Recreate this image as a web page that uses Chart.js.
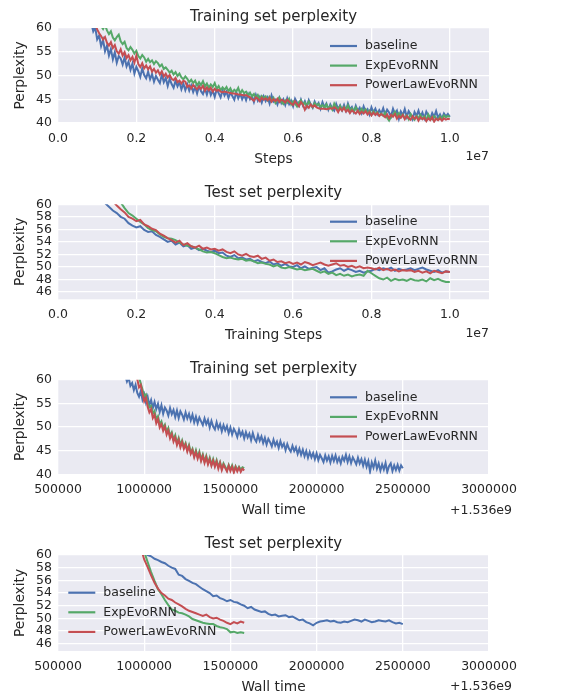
<!DOCTYPE html>
<html>
<head>
<meta charset="utf-8">
<script src="https://cdn.jsdelivr.net/npm/chart.js@4.4.0/dist/chart.umd.min.js"></script>
<style>
  body { margin: 0; background: #fff; }
  #wrap { position: relative; width: 562px; height: 693px; }
  canvas { position: absolute; left: 0; }
</style>
</head>
<body>
<div id="wrap">
  <canvas id="c1" width="562" height="172" style="top:0px"></canvas>
  <canvas id="c2" width="562" height="175" style="top:172px"></canvas>
  <canvas id="c3" width="562" height="175" style="top:347px"></canvas>
  <canvas id="c4" width="562" height="171" style="top:522px"></canvas>
</div>
<script>
// Series names
const seriesNames = ['baseline', 'ExpEvoRNN', 'PowerLawEvoRNN'];

// Panel 1: training perplexity vs steps (steps in millions)
const stepsTrain = [
  0.80, 0.85, 0.90, 0.95, 1.00, 1.05, 1.10, 1.15, 1.20, 1.25,
  1.30, 1.35, 1.40, 1.45, 1.50, 1.55, 1.60, 1.65, 1.70, 1.75,
  1.80, 1.85, 1.90, 1.95, 2.00, 2.05, 2.10, 2.15, 2.20, 2.25,
  2.30, 2.35, 2.40, 2.45, 2.50, 2.55, 2.60, 2.65, 2.70, 2.75,
  2.80, 2.85, 2.90, 2.95, 3.00, 3.05, 3.10, 3.15, 3.20, 3.25,
  3.30, 3.35, 3.40, 3.45, 3.50, 3.55, 3.60, 3.65, 3.70, 3.75,
  3.80, 3.85, 3.90, 3.95, 4.00, 4.05, 4.10, 4.15, 4.20, 4.25,
  4.30, 4.35, 4.40, 4.45, 4.50, 4.55, 4.60, 4.65, 4.70, 4.75,
  4.80, 4.85, 4.90, 4.95, 5.00, 5.05, 5.10, 5.15, 5.20, 5.25,
  5.30, 5.35, 5.40, 5.45, 5.50, 5.55, 5.60, 5.65, 5.70, 5.75,
  5.80, 5.85, 5.90, 5.95, 6.00, 6.05, 6.10, 6.15, 6.20, 6.25,
  6.30, 6.35, 6.40, 6.45, 6.50, 6.55, 6.60, 6.65, 6.70, 6.75,
  6.80, 6.85, 6.90, 6.95, 7.00, 7.05, 7.10, 7.15, 7.20, 7.25,
  7.30, 7.35, 7.40, 7.45, 7.50, 7.55, 7.60, 7.65, 7.70, 7.75,
  7.80, 7.85, 7.90, 7.95, 8.00, 8.05, 8.10, 8.15, 8.20, 8.25,
  8.30, 8.35, 8.40, 8.45, 8.50, 8.55, 8.60, 8.65, 8.70, 8.75,
  8.80, 8.85, 8.90, 8.95, 9.00, 9.05, 9.10, 9.15, 9.20, 9.25,
  9.30, 9.35, 9.40, 9.45, 9.50, 9.55, 9.60, 9.65, 9.70, 9.75,
  9.80, 9.85, 9.90, 9.95, 10.00
];
const trainBaseline = [
  62.4, 61.0, 59.3, 60.1, 57.6, 58.4, 56.2, 57.5, 55.1, 56.3,
  54.2, 55.6, 53.4, 54.9, 52.7, 54.1, 53.6, 52.3, 53.8, 51.9,
  52.9, 51.2, 52.5, 50.4, 51.8, 50.9, 49.7, 51.5, 50.1, 49.4,
  50.8, 49.2, 50.3, 48.7, 49.9, 49.1, 48.4, 50.2, 48.6, 49.5,
  47.8, 49.3, 48.2, 47.4, 48.9, 47.7, 48.6, 47.1, 48.3, 46.9,
  48.1, 46.8, 47.9, 46.5, 47.6, 46.2, 47.8, 46.7, 46.1, 47.3,
  46.0, 47.4, 45.9, 46.8, 45.5, 47.1, 46.3, 45.4, 46.9, 45.8,
  46.6, 45.3, 46.4, 45.7, 44.9, 46.5, 45.2, 46.2, 45.0, 45.9,
  44.8, 46.1, 45.0, 45.7, 44.4, 45.9, 44.7, 45.5, 44.3, 45.6,
  44.6, 45.4, 44.1, 45.8, 44.5, 44.9, 43.9, 45.3, 44.2, 45.0,
  43.8, 45.2, 44.0, 44.7, 43.5, 45.1, 44.3, 43.6, 44.9, 43.7,
  44.6, 43.4, 44.8, 43.9, 43.2, 44.5, 43.6, 44.2, 43.0, 44.4,
  43.3, 44.1, 42.8, 43.9, 43.1, 42.6, 44.0, 42.9, 43.7, 42.7,
  43.8, 42.6, 44.1, 42.9, 43.4, 42.3, 43.6, 42.5, 43.2, 42.1,
  43.5, 42.4, 42.9, 41.8, 43.3, 42.2, 43.0, 41.9, 42.7, 42.0,
  43.1, 41.7, 42.8, 42.2, 41.4, 43.0, 41.9, 42.6, 40.9, 42.4,
  41.6, 42.9, 41.3, 42.5, 41.8, 40.8, 42.3, 41.5, 42.6, 41.2,
  42.2, 41.0, 42.4, 41.6, 40.9, 42.1, 41.3, 42.5, 41.1, 41.8,
  40.9, 42.0, 41.4, 41.9, 41.3
];
const trainExp = [
  65.2, 64.4, 63.6, 62.9, 62.0, 61.2, 60.4, 59.8, 60.6, 59.5,
  58.7, 59.3, 58.0, 57.4, 58.1, 58.6, 57.2, 56.6, 57.1, 55.8,
  55.3, 56.0, 55.4, 54.6, 55.2, 54.1, 53.6, 54.3, 53.8, 52.9,
  53.5, 52.8, 53.2, 52.4, 53.0, 52.6, 51.9, 52.3, 51.4, 51.7,
  51.2, 50.6, 51.0, 50.2, 50.7, 49.9, 50.4, 49.6, 49.2, 49.8,
  49.3, 48.6, 49.1, 48.4, 48.9, 47.9, 48.6, 48.0, 48.8, 47.7,
  48.3, 47.4, 48.1, 47.6, 48.4, 47.2, 47.8, 46.9, 47.5, 47.0,
  47.6, 46.7, 47.3, 46.4, 47.0, 46.6, 47.4, 46.2, 46.9, 46.3,
  46.6, 45.8, 46.4, 45.6, 46.1, 45.3, 45.9, 45.0, 45.7, 45.2,
  45.6, 44.8, 45.5, 44.6, 45.3, 44.2, 44.9, 45.4, 44.5, 44.0,
  44.8, 44.3, 45.1, 43.9, 44.6, 44.1, 43.5, 44.4, 44.8, 43.8,
  44.3, 43.6, 44.5, 43.9, 43.3, 44.2, 43.7, 44.0, 43.4, 43.8,
  43.2, 43.9, 43.0, 43.6, 42.8, 44.1, 43.3, 42.9, 43.6, 42.7,
  43.4, 42.8, 43.7, 42.6, 43.1, 42.4, 43.3, 42.7, 42.3, 43.0,
  42.4, 42.9, 42.1, 42.6, 41.7, 42.5, 41.9, 42.3, 41.6, 42.0,
  41.5, 42.2, 41.1, 40.5, 41.3, 41.8, 42.4, 41.6, 42.1, 41.2,
  41.8, 41.0, 41.6, 40.8, 41.9, 41.2, 40.7, 41.5, 41.0, 41.7,
  40.9, 41.4, 40.6, 41.8, 41.1, 40.8, 41.5, 41.0, 40.7, 41.4,
  40.9, 41.6, 41.2, 41.5, 41.3
];
const trainPower = [
  63.6, 62.5, 61.4, 60.8, 59.7, 58.9, 58.3, 57.6, 58.1, 56.9,
  56.3, 57.0, 55.8, 56.4, 55.1, 54.6, 55.5, 54.2, 54.9, 53.7,
  54.3, 53.2, 53.9, 52.7, 54.2, 52.4, 51.8, 52.6, 51.5, 52.1,
  51.3, 51.9, 50.8, 51.4, 50.6, 51.1, 50.2, 50.9, 49.8, 50.4,
  49.6, 50.1, 49.3, 49.0, 49.5, 48.6, 48.9, 48.3, 48.9, 48.7,
  47.6, 47.9, 47.3, 48.0, 47.5, 47.1, 47.7, 47.2, 47.8, 46.8,
  47.5, 46.9, 47.4, 46.6, 47.2, 46.8, 47.0, 46.6, 46.5, 46.6,
  46.5, 46.4, 46.3, 46.2, 46.2, 46.1, 46.0, 46.0, 45.9, 45.8,
  45.9, 45.6, 45.4, 45.0, 44.7, 45.4, 45.1, 44.6, 45.3, 44.9,
  45.2, 44.8, 45.3, 44.5, 45.0, 44.6, 45.1, 44.4, 44.9, 44.7,
  44.3, 44.9, 44.5, 44.1, 43.8, 44.6, 44.0, 43.5, 44.4, 43.9,
  42.8, 43.6, 43.2, 43.9, 43.4, 43.7, 43.3, 43.1, 43.0, 43.0,
  43.0, 42.9, 43.0, 43.1, 43.0, 43.3, 43.0, 42.3, 43.1, 42.6,
  43.2, 42.4, 42.8, 42.1, 42.7, 42.3, 42.0, 42.6, 41.9, 42.4,
  42.0, 42.5, 41.8, 42.3, 41.6, 42.2, 41.7, 42.1, 41.5, 41.9,
  41.6, 41.2, 41.8, 41.0, 41.7, 41.3, 41.9, 40.9, 41.5, 41.1,
  41.7, 40.8, 41.5, 41.0, 40.7, 41.4, 40.9, 41.3, 40.5, 41.2,
  40.8, 41.1, 40.4, 41.0, 40.6, 41.2, 40.3, 40.9, 40.6, 41.0,
  40.5, 41.0, 40.7, 40.9, 40.8
];

// Panel 2: test perplexity vs training steps (millions)
const stepsTest = [
  1.0, 1.1, 1.2, 1.3, 1.4, 1.5, 1.6, 1.7, 1.8, 1.9,
  2.0, 2.1, 2.2, 2.3, 2.4, 2.5, 2.6, 2.7, 2.8, 2.9,
  3.0, 3.1, 3.2, 3.3, 3.4, 3.5, 3.6, 3.7, 3.8, 3.9,
  4.0, 4.1, 4.2, 4.3, 4.4, 4.5, 4.6, 4.7, 4.8, 4.9,
  5.0, 5.1, 5.2, 5.3, 5.4, 5.5, 5.6, 5.7, 5.8, 5.9,
  6.0, 6.1, 6.2, 6.3, 6.4, 6.5, 6.6, 6.7, 6.8, 6.9,
  7.0, 7.1, 7.2, 7.3, 7.4, 7.5, 7.6, 7.7, 7.8, 7.9,
  8.0, 8.1, 8.2, 8.3, 8.4, 8.5, 8.6, 8.7, 8.8, 8.9,
  9.0, 9.1, 9.2, 9.3, 9.4, 9.5, 9.6, 9.7, 9.8, 9.9,
  10.0
];
const testBaseline = [
  61.8, 61.0, 60.2, 59.6, 59.0, 58.6, 58.0, 57.7, 57.0, 56.6,
  56.3, 56.5, 55.9, 55.6, 55.7, 55.1, 54.8, 54.4, 54.0, 54.2,
  53.6, 53.9, 53.3, 53.5, 52.9, 53.1, 52.7, 52.9, 52.6, 52.4,
  52.6, 52.2, 52.3, 51.8, 51.6, 51.9, 51.4, 51.5, 51.2, 51.3,
  50.9, 51.1, 50.8, 50.6, 50.9, 50.4, 50.6, 50.2, 50.5, 50.1,
  50.0, 50.3, 49.8, 50.1, 49.7, 49.9, 50.0, 49.5, 49.8, 49.1,
  49.3, 49.6, 49.8, 49.4, 49.7, 49.5, 49.2, 49.4, 49.1, 49.3,
  49.4, 49.7, 49.5, 49.8, 49.6, 49.9, 49.4, 49.7, 49.5, 49.6,
  49.8, 49.5, 49.7, 49.9, 49.6, 49.4, 49.2, 49.5, 49.1, 49.3,
  49.2
];
const testExp = [
  66.0, 65.0, 64.0, 63.0, 62.0, 61.2, 60.3, 59.4, 58.6, 58.2,
  57.7, 57.2, 56.8, 56.2, 55.9, 55.7, 55.2, 54.8, 54.6, 54.5,
  54.3, 53.9, 53.6, 53.4, 53.3, 53.1, 52.8, 52.5, 52.3, 52.4,
  52.2, 51.9, 51.6, 51.4, 51.5, 51.3, 51.2, 51.3, 51.0, 51.1,
  50.9, 50.6, 50.7, 50.5, 50.4, 50.1, 50.3, 49.9, 49.8, 50.0,
  49.8, 49.6, 49.7, 49.5, 49.6, 49.7, 49.4, 49.1, 49.3, 48.9,
  49.1, 48.7, 48.9, 48.6, 48.8, 48.5, 48.7, 48.8, 48.6, 49.4,
  49.0, 48.6, 48.2, 48.0, 48.3, 47.8, 48.1, 47.9, 48.0, 47.8,
  48.1, 47.9, 47.8, 48.0, 47.7, 48.2, 47.9, 48.1, 47.8, 47.6,
  47.6
];
const testPower = [
  63.5, 62.6, 61.8, 61.0, 60.5, 59.8, 59.2, 58.7, 58.0, 57.7,
  57.3, 57.5, 56.8, 56.5, 56.1, 55.9, 55.3, 55.0, 54.6, 54.3,
  53.9, 54.2, 53.5, 53.8, 53.3, 53.1, 53.4, 52.9, 53.1, 52.8,
  52.9, 52.6, 52.8, 52.4, 52.2, 52.5, 52.0, 51.8, 52.1, 51.7,
  51.6, 51.8, 51.3, 51.5, 51.0, 51.2, 50.8, 50.9, 50.6, 50.8,
  50.5, 50.7, 50.4, 50.8, 50.6, 50.3, 50.5, 50.7, 50.4, 50.2,
  50.4, 50.6, 50.2, 50.3, 50.0, 50.2, 49.9, 50.1, 49.8, 49.9,
  49.8, 49.6, 49.9, 49.5, 49.7, 49.4, 49.6, 49.3, 49.5, 49.4,
  49.5, 49.2, 49.4, 49.1, 49.3, 49.0, 49.4, 49.2, 49.0, 49.3,
  49.2
];

// Panel 3: training perplexity vs wall time (thousands of seconds, +1.536e9)
const wallTrainBase = [
  880, 890, 900, 910, 920, 930, 940, 950, 960, 970,
  980, 990, 1000, 1010, 1020, 1030, 1040, 1050, 1060, 1070,
  1080, 1090, 1100, 1110, 1120, 1130, 1140, 1150, 1160, 1170,
  1180, 1190, 1200, 1210, 1220, 1230, 1240, 1250, 1260, 1270,
  1280, 1290, 1300, 1310, 1320, 1330, 1340, 1350, 1360, 1370,
  1380, 1390, 1400, 1410, 1420, 1430, 1440, 1450, 1460, 1470,
  1480, 1490, 1500, 1510, 1520, 1530, 1540, 1550, 1560, 1570,
  1580, 1590, 1600, 1610, 1620, 1630, 1640, 1650, 1660, 1670,
  1680, 1690, 1700, 1710, 1720, 1730, 1740, 1750, 1760, 1770,
  1780, 1790, 1800, 1810, 1820, 1830, 1840, 1850, 1860, 1870,
  1880, 1890, 1900, 1910, 1920, 1930, 1940, 1950, 1960, 1970,
  1980, 1990, 2000, 2010, 2020, 2030, 2040, 2050, 2060, 2070,
  2080, 2090, 2100, 2110, 2120, 2130, 2140, 2150, 2160, 2170,
  2180, 2190, 2200, 2210, 2220, 2230, 2240, 2250, 2260, 2270,
  2280, 2290, 2300, 2310, 2320, 2330, 2340, 2350, 2360, 2370,
  2380, 2390, 2400, 2410, 2420, 2430, 2440, 2450, 2460, 2470,
  2480, 2490, 2500
];
const wallTrainBaseline = [
  61.8, 60.9, 59.6, 60.4, 58.7, 59.3, 57.8, 58.9, 57.2, 56.4,
  57.6, 55.8, 56.9, 55.2, 56.4, 54.6, 55.7, 54.0, 55.3, 53.8,
  54.9, 53.2, 54.6, 52.8, 54.1, 53.5, 52.4, 54.0, 52.7, 53.6,
  52.1, 53.5, 51.9, 53.3, 52.6, 51.6, 53.1, 51.8, 52.8, 51.4,
  52.6, 51.0, 52.2, 50.8, 52.0, 51.2, 50.4, 51.8, 50.6, 51.5,
  49.9, 51.3, 50.1, 49.5, 51.0, 49.7, 50.6, 49.1, 50.4, 49.3,
  50.2, 48.7, 49.9, 48.4, 49.6, 48.9, 47.9, 49.4, 48.2, 49.0,
  47.6, 48.9, 47.8, 48.6, 47.2, 48.7, 47.5, 46.9, 48.3, 47.1,
  48.0, 46.6, 47.7, 46.3, 47.5, 46.8, 45.9, 47.3, 46.1, 46.9,
  45.6, 47.0, 45.8, 46.5, 45.1, 46.4, 45.4, 44.8, 46.0, 44.9,
  45.7, 44.3, 45.4, 44.1, 45.2, 43.8, 44.9, 43.5, 44.7, 43.6,
  44.5, 43.2, 44.4, 43.0, 44.1, 43.4, 42.6, 44.0, 42.9, 43.8,
  42.5, 43.9, 42.8, 44.0, 42.6, 43.5, 42.3, 43.7, 42.9, 44.1,
  42.6, 43.8, 42.4, 43.6, 42.9, 42.1, 43.5, 42.3, 43.2, 41.8,
  43.1, 41.6, 42.8, 40.6, 42.5, 41.4, 42.9, 41.2, 42.3, 40.8,
  42.1, 41.0, 42.4, 40.5, 41.7, 42.3, 40.7, 41.9, 40.9, 42.0,
  40.8, 41.9, 41.3
];
const wallTrainEvo = [
  940, 950, 960, 970, 980, 990, 1000, 1010, 1020, 1030,
  1040, 1050, 1060, 1070, 1080, 1090, 1100, 1110, 1120, 1130,
  1140, 1150, 1160, 1170, 1180, 1190, 1200, 1210, 1220, 1230,
  1240, 1250, 1260, 1270, 1280, 1290, 1300, 1310, 1320, 1330,
  1340, 1350, 1360, 1370, 1380, 1390, 1400, 1410, 1420, 1430,
  1440, 1450, 1460, 1470, 1480, 1490, 1500, 1510, 1520, 1530,
  1540, 1550, 1560, 1570, 1580
];
const wallTrainExp = [
  65.0, 63.6, 62.0, 60.5, 59.2, 57.9, 56.6, 56.9, 55.0, 54.2,
  54.5, 52.8, 53.4, 51.6, 52.3, 50.6, 51.2, 49.8, 50.5, 49.0,
  49.8, 48.1, 48.9, 47.4, 48.3, 46.6, 47.7, 46.2, 47.2, 45.8,
  46.6, 45.1, 46.2, 44.6, 45.4, 43.9, 45.1, 43.7, 44.8, 43.1,
  44.2, 42.7, 43.9, 42.4, 43.5, 42.0, 43.2, 41.9, 43.0, 41.6,
  42.6, 41.2, 42.3, 41.6, 40.8, 42.0, 41.0, 41.9, 40.7, 41.7,
  40.9, 41.6, 41.0, 41.5, 41.3
];
const wallTrainPower = [
  63.0, 61.6, 60.1, 58.4, 58.9, 57.1, 55.4, 56.2, 54.3, 53.1,
  53.8, 51.9, 52.6, 50.8, 51.7, 49.9, 50.6, 49.2, 50.1, 48.4,
  49.3, 47.6, 48.5, 46.9, 47.8, 46.2, 47.3, 45.7, 46.8, 45.4,
  46.3, 44.8, 45.9, 44.3, 45.1, 43.6, 44.7, 43.3, 44.4, 42.8,
  43.9, 42.4, 43.6, 42.1, 43.2, 41.8, 42.9, 41.6, 42.7, 41.2,
  42.4, 40.9, 42.0, 41.3, 40.6, 41.8, 40.7, 41.6, 40.4, 41.5,
  40.6, 41.4, 40.5, 41.2, 40.8
];

// Panel 4: test perplexity vs wall time (thousands of seconds, +1.536e9)
const wallTestBase = [
  1000, 1020, 1040, 1060, 1080, 1100, 1120, 1140, 1160, 1180,
  1200, 1220, 1240, 1260, 1280, 1300, 1320, 1340, 1360, 1380,
  1400, 1420, 1440, 1460, 1480, 1500, 1520, 1540, 1560, 1580,
  1600, 1620, 1640, 1660, 1680, 1700, 1720, 1740, 1760, 1780,
  1800, 1820, 1840, 1860, 1880, 1900, 1920, 1940, 1960, 1980,
  2000, 2020, 2040, 2060, 2080, 2100, 2120, 2140, 2160, 2180,
  2200, 2220, 2240, 2260, 2280, 2300, 2320, 2340, 2360, 2380,
  2400, 2420, 2440, 2460, 2480, 2500
];
const wallTestBaseline = [
  60.4, 60.0, 59.8, 59.4, 59.2, 58.9, 58.7, 58.3, 58.0, 57.8,
  56.9, 56.7, 56.2, 55.9, 55.6, 55.4, 55.0, 54.6, 54.3, 54.0,
  53.5, 53.6, 53.2, 53.0, 52.7, 52.9, 52.6, 52.5, 52.2, 52.0,
  51.6, 51.8, 51.4, 51.2, 51.0, 51.1, 50.7, 50.5, 50.6, 50.3,
  50.4, 50.5, 50.2, 50.3, 50.0, 49.7, 49.8, 49.4, 49.2, 48.9,
  49.3, 49.5, 49.6, 49.7, 49.5, 49.6, 49.4, 49.3, 49.5, 49.4,
  49.6, 49.8, 49.7, 49.5, 49.8, 49.6, 49.4, 49.5, 49.7, 49.6,
  49.5, 49.7, 49.4, 49.2, 49.3, 49.1
];
const wallTestEvo = [
  980, 1000, 1020, 1040, 1060, 1080, 1100, 1120, 1140, 1160,
  1180, 1200, 1220, 1240, 1260, 1280, 1300, 1320, 1340, 1360,
  1380, 1400, 1420, 1440, 1460, 1480, 1500, 1520, 1540, 1560,
  1580
];
const wallTestExp = [
  62.5, 60.5, 58.9, 57.3, 55.9, 54.6, 53.8, 52.9, 52.1, 51.4,
  51.2, 50.9, 50.8, 50.6, 50.3, 49.9, 49.7, 49.5, 49.3, 49.2,
  49.1, 49.1, 48.8, 48.6, 48.5, 48.3, 47.8, 47.9, 47.7, 47.8,
  47.7
];
const wallTestPower = [
  61.2, 59.3, 58.1, 56.8, 55.6, 54.7, 54.0, 53.6, 53.1, 52.9,
  52.5, 52.2, 51.9, 51.5, 51.2, 51.0, 50.8, 50.6, 50.4, 50.6,
  50.2, 50.0, 50.1, 49.8, 49.6, 49.3, 49.1, 49.4, 49.2, 49.5,
  49.3
];

// Tick values and labels
const stepTicks = [0, 2, 4, 6, 8, 10];
const stepTickLabels = ['0.0', '0.2', '0.4', '0.6', '0.8', '1.0'];
const wallTicks = [500, 1000, 1500, 2000, 2500, 3000];
const wallTickLabels = ['500000', '1000000', '1500000', '2000000', '2500000', '3000000'];
const trainYTicks = [40, 45, 50, 55, 60];
const testYTicks = [46, 48, 50, 52, 54, 56, 58, 60];

const COLORS = ['#4C72B0', '#55A868', '#C44E52'];
const TEXT = '#262626';
const FAMILY = '"DejaVu Sans", sans-serif';

const pts = (xs, ys) => xs.map((x, i) => ({ x: x, y: ys[i] }));

// background, titles, labels and legend
const decor = {
  id: 'decor',
  beforeDraw(chart) {
    const a = chart.chartArea, ctx = chart.ctx;
    ctx.save();
    ctx.fillStyle = '#EAEAF2';
    ctx.fillRect(a.left, a.top, a.right - a.left, a.bottom - a.top);
    ctx.restore();
  },
  afterDraw(chart, args, o) {
    const a = chart.chartArea, ctx = chart.ctx;
    const cx = (a.left + a.right) / 2;
    ctx.save();
    ctx.fillStyle = TEXT;
    ctx.textBaseline = 'alphabetic';
    ctx.textAlign = 'center';
    ctx.font = '15px ' + FAMILY;
    ctx.fillText(o.title, cx, a.top - 7);
    ctx.font = '13.75px ' + FAMILY;
    ctx.fillText(o.xlabel, cx, a.bottom + 39.5);
    ctx.save();
    ctx.translate(20, (a.top + a.bottom) / 2);
    ctx.rotate(-Math.PI / 2);
    ctx.textBaseline = 'middle';
    ctx.fillText('Perplexity', 0, 0);
    ctx.restore();
    ctx.font = '12.5px ' + FAMILY;
    ctx.textAlign = 'right';
    ctx.fillText(o.offset, o.offsetX, a.bottom + o.offsetDy);

    // legend
    const lx = o.legendSide === 'left' ? a.left + o.legendX : a.right - o.legendX;
    ctx.textAlign = 'left';
    ctx.textBaseline = 'middle';
    seriesNames.forEach((name, i) => {
      const y = a.top + o.legendY + i * 19.6;
      ctx.strokeStyle = COLORS[i];
      ctx.lineWidth = 2.2;
      ctx.beginPath();
      ctx.moveTo(lx, y);
      ctx.lineTo(lx + 27, y);
      ctx.stroke();
      ctx.fillStyle = TEXT;
      ctx.fillText(name, lx + 35, y);
    });
    ctx.restore();
  }
};

function makePanel(id, p) {
  const ctx = document.getElementById(id).getContext('2d');
  return new Chart(ctx, {
    type: 'line',
    data: {
      datasets: p.series.map((s, i) => ({
        label: seriesNames[i],
        data: pts(s.x, s.y),
        borderColor: COLORS[i],
        borderWidth: 2,
        pointRadius: 0,
        tension: 0,
        fill: false,
        clip: 0,
        order: 3 - i
      }))
    },
    options: {
      responsive: false,
      animation: false,
      devicePixelRatio: 1,
      layout: { padding: { left: 0, right: 73, top: p.top, bottom: 0 } },
      plugins: {
        legend: { display: false },
        tooltip: { enabled: false },
        decor: p.decor
      },
      scales: {
        x: {
          type: 'linear',
          min: p.xMin,
          max: p.xMax,
          afterBuildTicks: s => { s.ticks = p.xTicks.map(v => ({ value: v })); },
          afterFit: s => { s.height = p.axisH; },
          ticks: {
            autoSkip: false, maxRotation: 0, padding: 8, color: TEXT,
            font: { family: FAMILY, size: 12.5 },
            callback: (v, i) => p.xLabels[i]
          },
          grid: { color: '#ffffff', lineWidth: 1.3, drawTicks: false },
          border: { display: false }
        },
        y: {
          type: 'linear',
          min: p.yMin,
          max: 60,
          afterBuildTicks: s => { s.ticks = p.yTicks.map(v => ({ value: v })); },
          afterFit: s => { s.width = 58; },
          ticks: {
            autoSkip: false, padding: 6, color: TEXT,
            font: { family: FAMILY, size: 12.5 },
            callback: (v, i) => String(p.yTicks[i])
          },
          grid: { color: '#ffffff', lineWidth: 1.3, drawTicks: false },
          border: { display: false }
        }
      }
    },
    plugins: [decor]
  });
}

makePanel('c1', {
  series: [
    { x: stepsTrain, y: trainBaseline },
    { x: stepsTrain, y: trainExp },
    { x: stepsTrain, y: trainPower }
  ],
  xMin: 0, xMax: 11, xTicks: stepTicks, xLabels: stepTickLabels,
  yMin: 40, yTicks: trainYTicks, top: 28, axisH: 49,
  decor: { title: 'Training set perplexity', xlabel: 'Steps', offset: '1e7', offsetX: 489, offsetDy: 37,
           legendSide: 'right', legendX: 159, legendY: 18 }
});

makePanel('c2', {
  series: [
    { x: stepsTest, y: testBaseline },
    { x: stepsTest, y: testExp },
    { x: stepsTest, y: testPower }
  ],
  xMin: 0, xMax: 11, xTicks: stepTicks, xLabels: stepTickLabels,
  yMin: 44.85, yTicks: testYTicks, top: 32.3, axisH: 47.7,
  decor: { title: 'Test set perplexity', xlabel: 'Training Steps', offset: '1e7', offsetX: 489, offsetDy: 37.4,
           legendSide: 'right', legendX: 159, legendY: 17.4 }
});

makePanel('c3', {
  series: [
    { x: wallTrainBase, y: wallTrainBaseline },
    { x: wallTrainEvo, y: wallTrainExp },
    { x: wallTrainEvo, y: wallTrainPower }
  ],
  xMin: 500, xMax: 3000, xTicks: wallTicks, xLabels: wallTickLabels,
  yMin: 40, yTicks: trainYTicks, top: 32.7, axisH: 47.7,
  decor: { title: 'Training set perplexity', xlabel: 'Wall time', offset: '+1.536e9', offsetX: 512, offsetDy: 40,
           legendSide: 'right', legendX: 159, legendY: 17.6 }
});

makePanel('c4', {
  series: [
    { x: wallTestBase, y: wallTestBaseline },
    { x: wallTestEvo, y: wallTestExp },
    { x: wallTestEvo, y: wallTestPower }
  ],
  xMin: 500, xMax: 3000, xTicks: wallTicks, xLabels: wallTickLabels,
  yMin: 44.85, yTicks: testYTicks, top: 33, axisH: 42,
  decor: { title: 'Test set perplexity', xlabel: 'Wall time', offset: '+1.536e9', offsetX: 512, offsetDy: 39,
           legendSide: 'left', legendX: 10.3, legendY: 37.7 }
});
</script>
</body>
</html>
